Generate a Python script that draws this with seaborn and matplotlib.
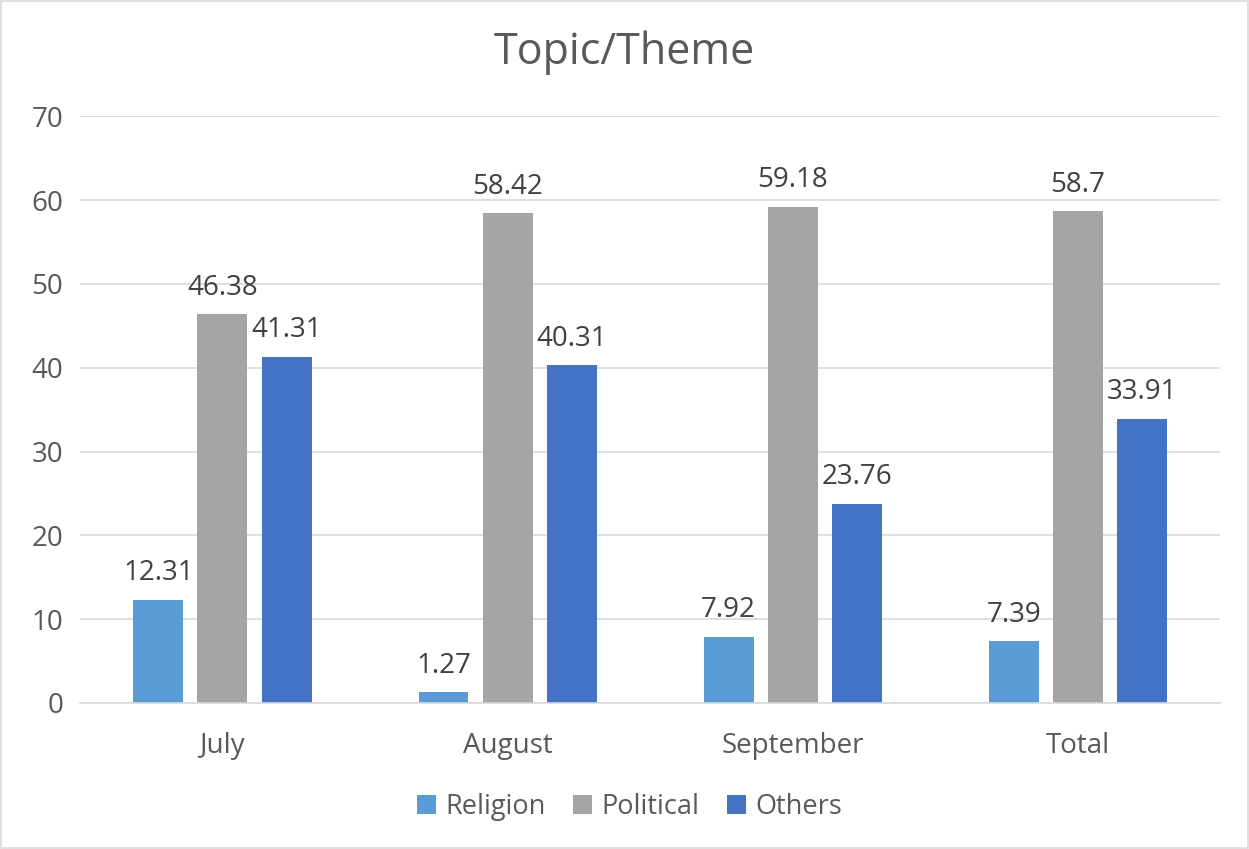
import matplotlib
matplotlib.use("Agg")
import matplotlib.pyplot as plt
import seaborn as sns
import pandas as pd
from matplotlib.patches import Rectangle

months = ["July", "August", "September", "Total"]
series = ["Religion", "Political", "Others"]
religion = [12.31, 1.27, 7.92, 7.39]
political = [46.38, 58.42, 59.18, 58.7]
others = [41.31, 40.31, 23.76, 33.91]
colors = ["#5B9BD5", "#A5A5A5", "#4472C4"]

rows = []
for s, vals in zip(series, [religion, political, others]):
    for m, v in zip(months, vals):
        rows.append({"Month": m, "Series": s, "Value": v})
df = pd.DataFrame(rows)

sns.set_theme(style="white")
plt.rcParams["font.family"] = ["Open Sans", "DejaVu Sans"]
text_color = "#595959"
label_color = "#404040"

fig = plt.figure(figsize=(12.49, 8.49), dpi=100)
ax = fig.add_axes([0.064, 0.172, 0.913, 0.691])

sns.barplot(data=df, x="Month", y="Value", hue="Series", order=months,
            hue_order=series, palette=colors, width=0.674, gap=0.22,
            saturation=1, ax=ax, legend=True, linewidth=0)

for cont in ax.containers:
    labels = [("%g" % b.get_height()) for b in cont]
    ax.bar_label(cont, labels=labels, padding=9, fontsize=20, color=label_color)

ax.set_ylim(0, 70)
ax.set_xlim(-0.5, 3.5)
ax.set_yticks(range(0, 71, 10))
ax.yaxis.grid(True, color="#D9D9D9", linewidth=1.2)
ax.set_axisbelow(True)
for side in ["left", "right", "top"]:
    ax.spines[side].set_visible(False)
ax.spines["bottom"].set_color("#D9D9D9")
ax.spines["bottom"].set_linewidth(1.2)
ax.tick_params(axis="both", length=0, labelsize=20, labelcolor=text_color)
ax.tick_params(axis="x", pad=21)
ax.tick_params(axis="y", pad=12)
ax.set_xlabel("")
ax.set_ylabel("")
ax.set_title("")

fig.text(0.5, 0.938, "Topic/Theme", ha="center", va="center",
         fontsize=31, color=text_color)

ax.get_legend().remove()
handles, labels = ax.get_legend_handles_labels()
fig.legend(handles[:3], labels[:3], loc="center", bbox_to_anchor=(0.504, 0.05),
           ncol=3, frameon=False, fontsize=19.5, labelcolor=text_color,
           handlelength=0.7, handleheight=0.7, handletextpad=0.35,
           columnspacing=1.0)

fig.patches.append(Rectangle((0.001, 0.001), 0.998, 0.998, transform=fig.transFigure,
                             fill=False, edgecolor="#D9D9D9", linewidth=1.2))

fig.savefig("out.png", dpi=100, facecolor="white")
